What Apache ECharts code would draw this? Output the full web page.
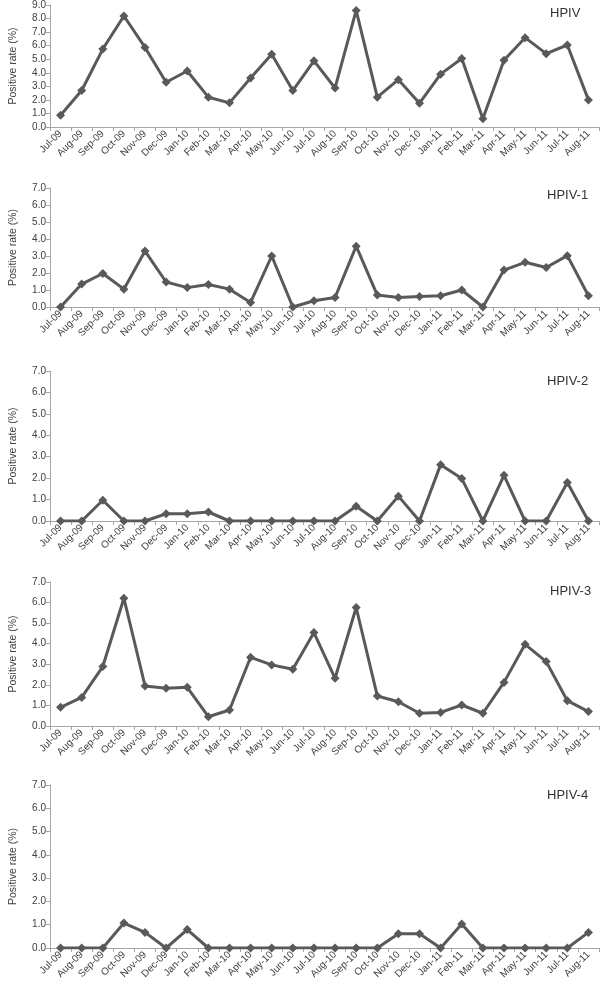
<!DOCTYPE html>
<html>
<head>
<meta charset="utf-8">
<script src="https://cdn.jsdelivr.net/npm/echarts@6/dist/echarts.min.js"></script>
<style>
html,body{margin:0;padding:0;background:#fff;}
#c{width:600px;height:985px;}
</style>
</head>
<body>
<div id="c"></div>
<script>
const months = ["Jul-09","Aug-09","Sep-09","Oct-09","Nov-09","Dec-09","Jan-10","Feb-10","Mar-10","Apr-10","May-10","Jun-10","Jul-10","Aug-10","Sep-10","Oct-10","Nov-10","Dec-10","Jan-11","Feb-11","Mar-11","Apr-11","May-11","Jun-11","Jul-11","Aug-11"];

const hpiv  = [0.86,2.69,5.75,8.19,5.87,3.30,4.13,2.20,1.78,3.62,5.36,2.69,4.88,2.88,8.60,2.20,3.49,1.76,3.90,5.05,0.61,4.93,6.59,5.41,6.05,2.00];
const hpiv1 = [0.00,1.35,1.97,1.05,3.29,1.47,1.14,1.32,1.05,0.27,3.00,0.00,0.37,0.56,3.58,0.70,0.56,0.62,0.66,1.00,0.00,2.17,2.63,2.32,3.02,0.66];
const hpiv2 = [0.00,0.00,0.97,0.00,0.00,0.34,0.34,0.42,0.00,0.00,0.00,0.00,0.00,0.00,0.69,0.00,1.16,0.00,2.63,1.98,0.00,2.13,0.00,0.00,1.80,0.00];
const hpiv3 = [0.91,1.39,2.89,6.21,1.95,1.83,1.88,0.45,0.78,3.34,2.97,2.76,4.54,2.32,5.76,1.46,1.18,0.62,0.66,1.02,0.62,2.12,3.97,3.13,1.23,0.70];
const hpiv4 = [0.00,0.00,0.00,1.07,0.67,0.00,0.79,0.00,0.00,0.00,0.00,0.00,0.00,0.00,0.00,0.00,0.61,0.61,0.00,1.03,0.00,0.00,0.00,0.00,0.00,0.67];

const panelNames = ["HPIV","HPIV-1","HPIV-2","HPIV-3","HPIV-4"];
const panelData = [hpiv, hpiv1, hpiv2, hpiv3, hpiv4];
const yMax = [9, 7, 7, 7, 7];
const yAxisName = "Positive rate (%)";

// layout (pixels)
const gridTop = [4, 188, 371, 582, 785];
const gridBottomY = [127, 307, 521, 726, 948];
const titleCenterY = [10, 192, 378, 588, 792];
const titleLeft = [545, 542, 542, 545, 542];

const font = "'Liberation Sans', Arial, sans-serif";
const axisColor = "#a6a6a6";
const textColor = "#404040";
const lineColor = "#595959";

const grids = [], xAxes = [], yAxes = [], series = [], titles = [];
for (let i = 0; i < 5; i++) {
  grids.push({left: 46, width: 553, top: gridTop[i], height: gridBottomY[i] - gridTop[i], containLabel: false});
  xAxes.push({
    type: "category", gridIndex: i, data: months, boundaryGap: true,
    axisLine: {show: true, lineStyle: {color: axisColor, width: 1}},
    axisTick: {show: true, interval: 0, length: 4, lineStyle: {color: axisColor}},
    axisLabel: {interval: 0, rotate: 45, fontSize: 10, color: textColor, fontFamily: font, margin: 5},
    splitLine: {show: false}
  });
  yAxes.push({
    type: "value", gridIndex: i, min: 0, max: yMax[i], interval: 1,
    name: yAxisName, nameLocation: "middle", nameGap: 31,
    nameTextStyle: {fontSize: 10.5, color: textColor, fontFamily: font},
    axisLine: {show: true, lineStyle: {color: axisColor, width: 1}},
    axisTick: {show: true, length: 4, lineStyle: {color: axisColor}},
    axisLabel: {fontSize: 10, color: textColor, fontFamily: font, margin: 4, formatter: v => v.toFixed(1)},
    splitLine: {show: false}
  });
  series.push({
    type: "line", xAxisIndex: i, yAxisIndex: i, data: panelData[i],
    symbol: "diamond", symbolSize: 9, showSymbol: true,
    lineStyle: {color: lineColor, width: 3},
    itemStyle: {color: lineColor},
    animation: false
  });
  titles.push({
    text: panelNames[i], left: titleLeft[i], top: titleCenterY[i] - 8,
    textStyle: {fontSize: 13, fontWeight: "normal", color: "#333", fontFamily: font}
  });
}

const chart = echarts.init(document.getElementById("c"), null, {renderer: "canvas"});
chart.setOption({
  animation: false,
  backgroundColor: "#fff",
  title: titles,
  grid: grids,
  xAxis: xAxes,
  yAxis: yAxes,
  series: series
});
</script>
</body>
</html>
